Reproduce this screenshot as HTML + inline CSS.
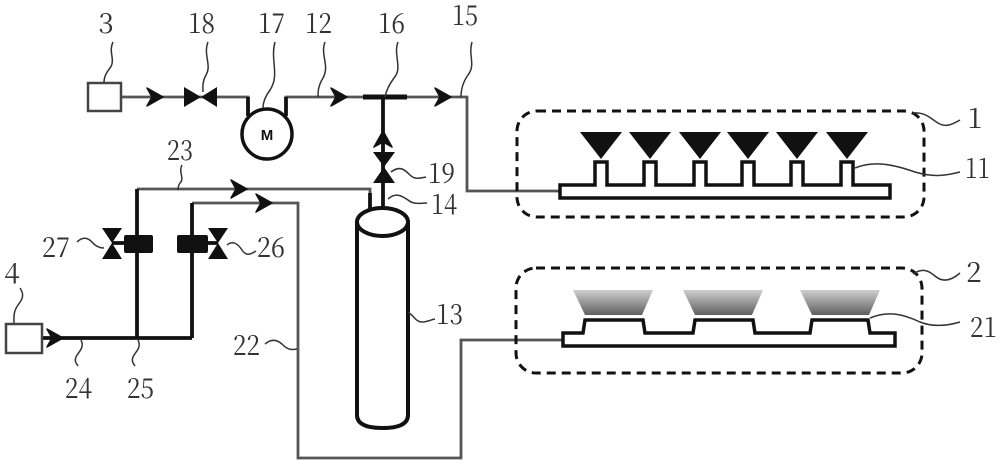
<!DOCTYPE html>
<html><head><meta charset="utf-8"><style>
html,body{margin:0;padding:0;background:#fff;}
svg{display:block;}
.lbl text{font-family:'Noto Serif CJK SC','Liberation Serif','DejaVu Serif',serif;font-size:28px;fill:#333;}
</style></head><body>
<svg width="1000" height="465" viewBox="0 0 1000 465" xmlns="http://www.w3.org/2000/svg">
<defs>
<linearGradient id="g" x1="0" y1="0" x2="0" y2="1">
<stop offset="0" stop-color="#cfcfcf"/><stop offset="1" stop-color="#5f5f5f"/>
</linearGradient>
<path id="chev" d="M0,0 L-16,-9 L-11,0 L-16,9 Z" fill="#111" stroke="#111" stroke-width="1.5" stroke-linejoin="round"/>
</defs>
<rect width="1000" height="465" fill="#fff"/>

<!-- thin lines -->
<g fill="none" stroke="#555" stroke-width="2.8">
<path d="M122,97 H248 V116"/>
<path d="M286,116 V97 H467 V191 H560"/>
<path d="M137,189 H370 V200"/>
<path d="M192,203 H298 V458 H461 V340 H563"/>
</g>
<!-- thick lines -->
<g fill="none" stroke="#111" stroke-width="3.8">
<path d="M248,97 V116"/>
<path d="M286,116 V97"/>
<path d="M383,97 V209"/>
<path d="M370,193 V212"/>
<path d="M137,189 V338"/>
<path d="M192,203 V338"/>
<path d="M42,338 H192"/>
<path d="M112,243 H124"/>
<path d="M208,243 H218"/>
</g>
<rect x="363" y="94.5" width="44" height="5" fill="#111"/>

<!-- boxes 3 and 4 -->
<rect x="88" y="83" width="33" height="28" fill="#fff" stroke="#444" stroke-width="2.5"/>
<rect x="6" y="324" width="36" height="29" fill="#fff" stroke="#444" stroke-width="2.5"/>

<!-- motor -->
<circle cx="267" cy="134" r="25" fill="#fff" stroke="#111" stroke-width="3.5"/>
<text x="267" y="140" text-anchor="middle" font-family="Liberation Sans, sans-serif" font-size="15" font-weight="bold" fill="#111">M</text>

<!-- arrows -->
<use href="#chev" transform="translate(163,97)"/>
<use href="#chev" transform="translate(347,97)"/>
<use href="#chev" transform="translate(451,97)"/>
<use href="#chev" transform="translate(63,338)"/>
<use href="#chev" transform="translate(247,189)"/>
<use href="#chev" transform="translate(272,203)"/>
<use href="#chev" transform="translate(383,131) rotate(-90)"/>

<!-- valves -->
<g fill="#111">
<path d="M184,87 L201,97 L184,107 Z M217,87 L201,97 L217,107 Z"/>
<path d="M373,152 L395,152 L384,167 Z M373,183 L395,183 L384,167 Z"/>
<path d="M102,228 L122,228 L112,243 Z M102,259 L122,259 L112,243 Z"/>
<path d="M208,228 L228,228 L218,243 Z M208,259 L228,259 L218,243 Z"/>
<rect x="124" y="235" width="29" height="18" rx="2"/>
<rect x="177" y="235" width="31" height="18" rx="2"/>
</g>

<!-- cylinder -->
<g fill="#fff" stroke="#111" stroke-width="4">
<path d="M357,222 V415 Q357,428 382.5,428 Q408,428 408,415 V222"/>
<ellipse cx="382.5" cy="222" rx="25.5" ry="14"/>
</g>

<!-- dashed enclosures -->
<g fill="none" stroke="#111" stroke-width="3" stroke-dasharray="9 6">
<rect x="517" y="111" width="407" height="106" rx="20"/>
<rect x="516" y="268" width="406" height="105" rx="20"/>
</g>

<!-- manifold 1 -->
<path d="M560,185 H595 V162 H607 V185 H644 V162 H656 V185 H694 V162 H706 V185 H742 V162 H754 V185 H791 V162 H803 V185 H841 V162 H853 V185 H890 V198 H560 Z" fill="#fff" stroke="#111" stroke-width="3.5"/>
<g fill="#111">
<path d="M580,132 H622 L601,159 Z"/>
<path d="M629,132 H671 L650,159 Z"/>
<path d="M679,132 H721 L700,159 Z"/>
<path d="M727,132 H769 L748,159 Z"/>
<path d="M776,132 H818 L797,159 Z"/>
<path d="M826,132 H868 L847,159 Z"/>
</g>

<!-- manifold 2 -->
<path d="M563,333 H583 L585,320 H643 L645,333 H693 L695,320 H753 L755,333 H810 L812,320 H868 L870,333 H895 V346 H563 Z" fill="#fff" stroke="#111" stroke-width="3.5"/>
<g fill="url(#g)">
<path d="M573,290 H653 L642,315 H585 Z"/>
<path d="M683,290 H763 L752,315 H695 Z"/>
<path d="M800,290 H880 L869,315 H812 Z"/>
</g>

<!-- leader lines -->
<g fill="none" stroke="#333" stroke-width="1.5">
<path d="M113,42 C108,52 116,60 110,68 C105,74 104,78 104,82"/>
<path d="M208,42 C203,55 212,65 206,75 C202,82 203,88 203,92"/>
<path d="M275,42 C270,60 280,75 270,90 C264,98 263,104 263,108"/>
<path d="M325,42 C320,55 330,65 323,78 C318,86 318,92 318,97"/>
<path d="M398,42 C393,55 403,68 394,78 C388,86 386,92 385,97"/>
<path d="M472,42 C468,55 476,65 468,75 C463,82 461,90 461,97"/>
<path d="M182,165 C178,172 185,178 180,183 C178,186 178,188 178,190"/>
<path d="M391,172 C400,165 405,170 410,175 C415,180 420,178 426,177"/>
<path d="M388,199 C396,192 402,196 408,200 C414,205 420,203 427,203"/>
<path d="M77,242 C83,236 88,238 92,242 C96,247 100,248 104,248"/>
<path d="M227,245 C233,240 238,244 242,250 C246,256 250,255 256,251"/>
<path d="M20,288 C25,295 22,300 18,305 C13,312 14,318 14,323"/>
<path d="M81,340 C85,348 78,352 76,357 C74,362 77,364 78,366"/>
<path d="M138,340 C142,348 135,352 133,357 C131,362 134,364 135,366"/>
<path d="M265,344 C272,338 278,340 283,345 C288,350 292,350 297,349"/>
<path d="M408,312 C414,316 416,322 422,322 C427,322 430,320 435,319"/>
<path d="M913,113 C925,112 930,118 938,123 C946,128 953,124 960,120"/>
<path d="M855,168 C875,160 895,165 915,172 C935,178 948,175 960,172"/>
<path d="M913,274 C922,268 928,270 935,276 C943,283 952,280 960,273"/>
<path d="M870,318 C890,310 905,315 920,322 C935,328 950,325 960,322"/>
</g>

<!-- labels -->
<g class="lbl">
<text x="106" y="33" text-anchor="middle">3</text>
<text x="188" y="33" textLength="27" lengthAdjust="spacingAndGlyphs">18</text>
<text x="258" y="33" textLength="27" lengthAdjust="spacingAndGlyphs">17</text>
<text x="305" y="33" textLength="27" lengthAdjust="spacingAndGlyphs">12</text>
<text x="378" y="33" textLength="27" lengthAdjust="spacingAndGlyphs">16</text>
<text x="452" y="25" textLength="26" lengthAdjust="spacingAndGlyphs">15</text>
<text x="167" y="160" textLength="26" lengthAdjust="spacingAndGlyphs">23</text>
<text x="428" y="183" textLength="27" lengthAdjust="spacingAndGlyphs">19</text>
<text x="431" y="214" textLength="26" lengthAdjust="spacingAndGlyphs">14</text>
<text x="42" y="257" textLength="28" lengthAdjust="spacingAndGlyphs">27</text>
<text x="257" y="257" textLength="28" lengthAdjust="spacingAndGlyphs">26</text>
<text x="12" y="283" text-anchor="middle">4</text>
<text x="65" y="398" textLength="27" lengthAdjust="spacingAndGlyphs">24</text>
<text x="127" y="398" textLength="27" lengthAdjust="spacingAndGlyphs">25</text>
<text x="233" y="355" textLength="27" lengthAdjust="spacingAndGlyphs">22</text>
<text x="436" y="324" textLength="27" lengthAdjust="spacingAndGlyphs">13</text>
<text x="975" y="128" text-anchor="middle">1</text>
<text x="965" y="178" textLength="25" lengthAdjust="spacingAndGlyphs">11</text>
<text x="974" y="282" text-anchor="middle">2</text>
<text x="970" y="337" textLength="27" lengthAdjust="spacingAndGlyphs">21</text>
</g>
</svg>
</body></html>
